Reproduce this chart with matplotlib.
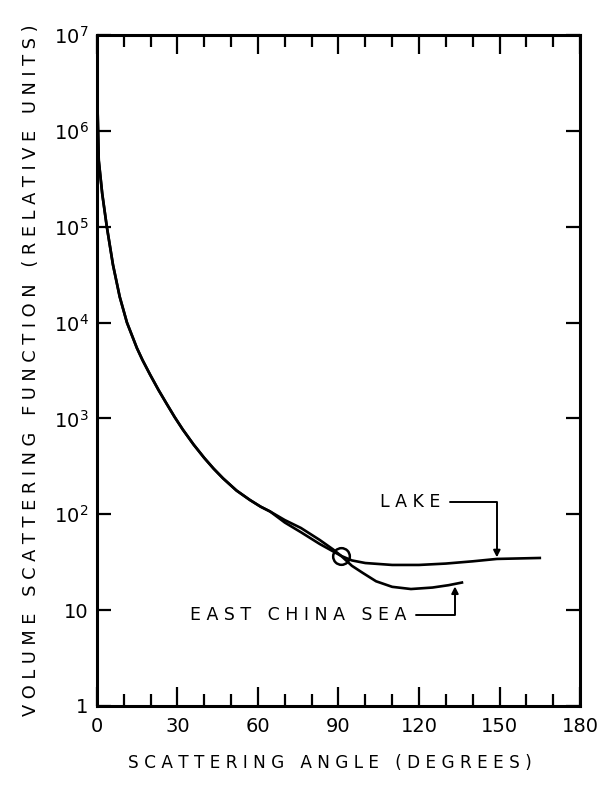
import matplotlib
matplotlib.use("Agg")
from matplotlib import pyplot as plt
from matplotlib.ticker import MultipleLocator, FixedLocator, NullLocator

# angles in degrees, values in relative units
front_angle = [0.2, 0.7, 2, 3.7, 6, 8.5, 11.2, 14.9, 17, 19.8, 23, 26, 29, 32,
               36, 40, 43.5, 47, 52, 57, 61, 64.5]
front_value = [2.0e6, 4.9e5, 2.2e5, 1.0e5, 4.0e4, 1.86e4, 1.0e4, 5430, 4060, 2870,
               1970, 1420, 1030, 766, 535, 387, 299, 237, 177, 141, 120, 107]

lake_angle = front_angle + [70, 76, 83, 88, 91, 95, 100, 110, 120, 130, 140, 149,
                            157, 165]
lake_value = front_value + [82, 65, 49, 41, 36.8, 33, 31, 29.6, 29.6, 30.6, 32.3,
                            34.2, 34.6, 35]

sea_angle = front_angle + [70, 76, 83, 88, 91, 95, 99, 104, 110, 117, 125, 131, 136]
sea_value = front_value + [87, 72, 54, 43, 36.8, 29, 24.5, 20, 17.5, 16.6, 17.2,
                           18.2, 19.4]

x_ticks = [0, 30, 60, 90, 120, 150, 180]
y_ticks = [1, 10, 100, 1e3, 1e4, 1e5, 1e6, 1e7]
y_tick_labels = ["1", "10", r"$10^{2}$", r"$10^{3}$", r"$10^{4}$",
                 r"$10^{5}$", r"$10^{6}$", r"$10^{7}$"]


def spaced(s):
    # wide lettering like the old stencil labels
    return " ".join(s)


def main():
    plt.rcParams['font.family'] = ['DejaVu Sans']
    plt.rcParams['mathtext.fontset'] = 'dejavusans'

    fig = plt.figure(figsize=(5.98, 7.86), dpi=100)
    ax = fig.add_axes([0.162, 0.1018, 0.808, 0.8537])

    ax.plot(lake_angle, lake_value, color="black", lw=1.9, solid_joinstyle="round")
    ax.plot(sea_angle, sea_value, color="black", lw=1.9, solid_joinstyle="round")
    # crossing point of the two curves
    i = lake_angle.index(91)
    ax.plot([lake_angle[i]], [lake_value[i]], marker="o", ms=12, mfc="none",
            mec="black", mew=1.8)

    ax.set_yscale("log")
    ax.set_xlim(0, 180)
    ax.set_ylim(1, 1e7)

    ax.xaxis.set_major_locator(FixedLocator(x_ticks))
    ax.xaxis.set_minor_locator(MultipleLocator(10))
    ax.set_xticklabels([str(t) for t in x_ticks], fontsize=14)
    ax.yaxis.set_major_locator(FixedLocator(y_ticks))
    ax.yaxis.set_minor_locator(NullLocator())
    ax.set_yticklabels(y_tick_labels, fontsize=14)

    ax.tick_params(axis="x", which="major", direction="in", top=True, length=14,
                   width=1.6, pad=8)
    ax.tick_params(axis="x", which="minor", direction="in", top=True, length=8.5,
                   width=1.6)
    ax.tick_params(axis="y", which="major", direction="in", right=True, length=10,
                   width=1.6, pad=6)
    for sp in ax.spines.values():
        sp.set_linewidth(2.2)

    ax.set_xlabel(spaced("SCATTERING ANGLE (DEGREES)"), fontsize=12.2, labelpad=13,
                  x=0.482)
    ax.set_ylabel(spaced("VOLUME SCATTERING FUNCTION (RELATIVE UNITS)"),
                  fontsize=12.8, labelpad=10)

    ax.annotate(spaced("LAKE"), xy=(149, 35.5), xytext=(116.7, 134),
                ha="center", va="center", fontsize=12.5,
                arrowprops=dict(arrowstyle="-|>", color="black", lw=1.4,
                                connectionstyle="angle,angleA=0,angleB=90,rad=0",
                                relpos=(1, 0.5), shrinkA=5, shrinkB=0,
                                mutation_scale=10))
    ax.annotate(spaced("EAST CHINA SEA"), xy=(133.4, 18.3), xytext=(75, 8.9),
                ha="center", va="center", fontsize=12.5,
                arrowprops=dict(arrowstyle="-|>", color="black", lw=1.4,
                                connectionstyle="angle,angleA=0,angleB=90,rad=0",
                                relpos=(1, 0.5), shrinkA=5, shrinkB=1,
                                mutation_scale=10))

    fig.savefig("out.png", dpi=100)


if __name__ == "__main__":
    main()
